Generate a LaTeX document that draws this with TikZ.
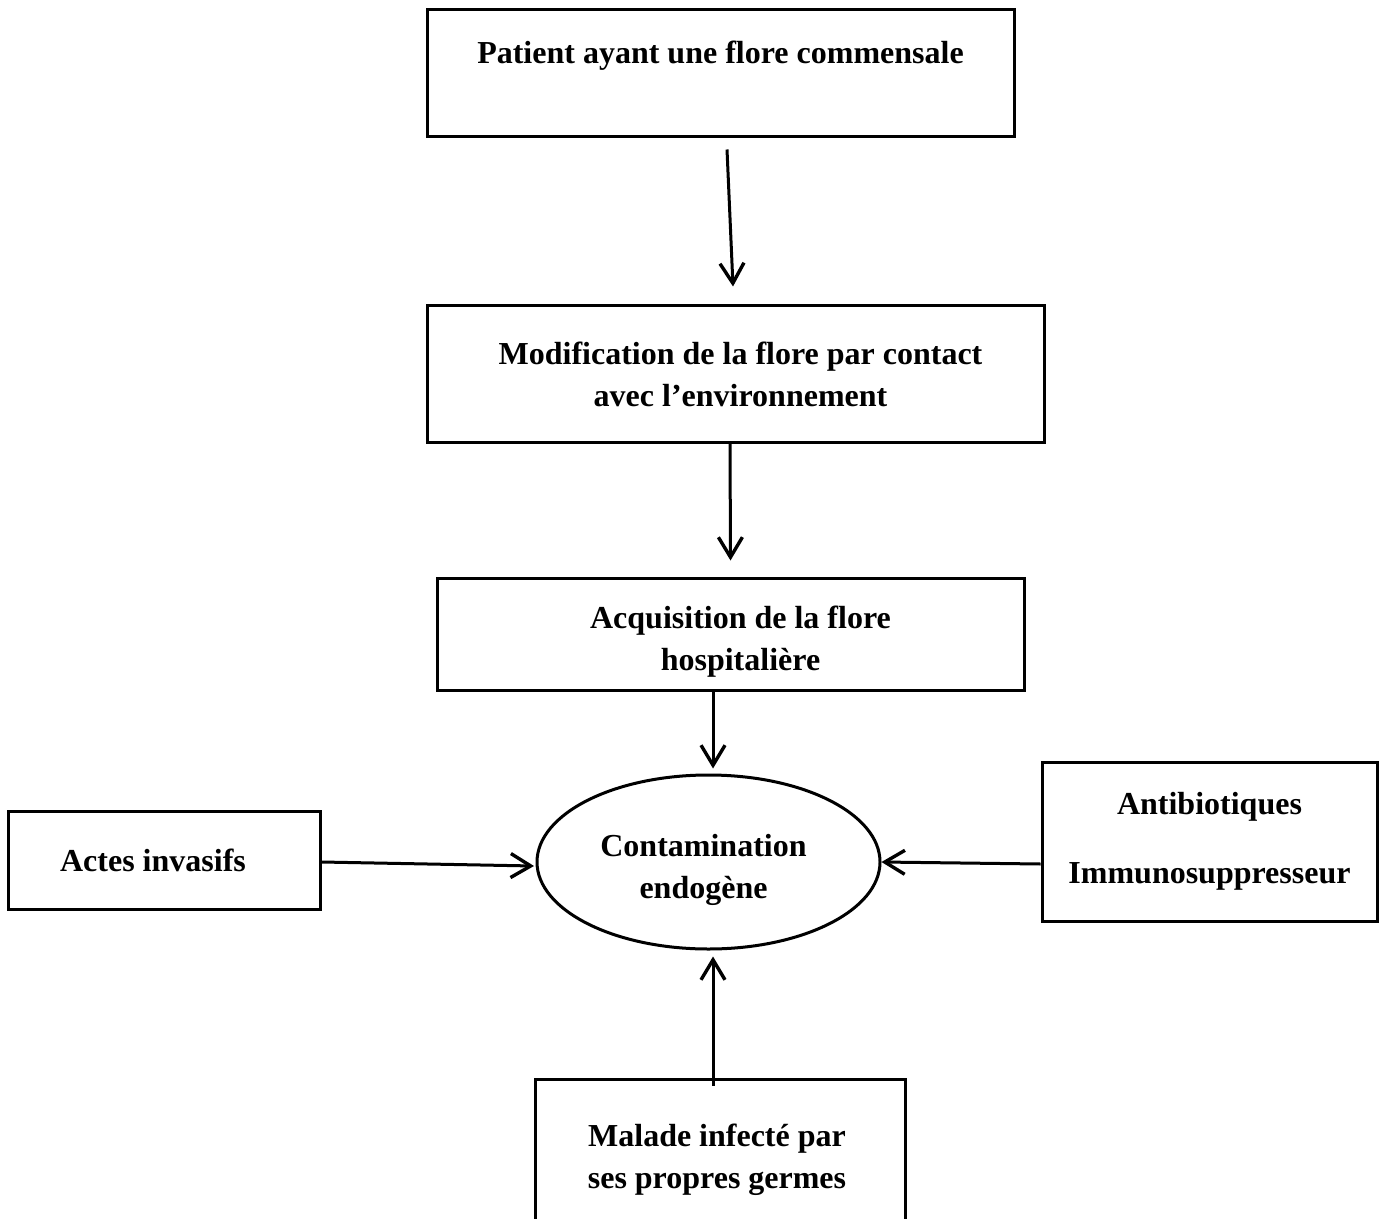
\documentclass[tikz,border=0pt]{standalone}
\usepackage{fontspec}
\setmainfont{Liberation Serif}
\usetikzlibrary{arrows.meta,shapes.geometric}
\begin{document}
\begin{tikzpicture}[x=0.5pt,y=-0.5pt,
	boite/.style={draw,line width=1.5pt,align=center,inner sep=0pt,
		font=\fontsize{16}{21}\selectfont\bfseries},
	fleche/.style={line width=1.5pt,-{Straight Barb[length=10pt,width=12pt,line width=1.7pt]}}]
	\clip (0,0) rectangle (1385,1219);
	% les boites
	\node[boite,minimum width=293.5pt,minimum height=63.5pt] (patient) at (720.5,73.5)
	{Patient ayant une flore commensale\\ \mbox{}};
	\node[boite,minimum width=308.5pt,minimum height=68pt] (modif) at (735.5,374)
	{\hspace*{5pt}Modification de la flore par contact\\\hspace*{5pt}avec l’environnement};
	\node[boite,minimum width=293.5pt,minimum height=56pt] (acquis) at (730.5,634)
	{\rule{0pt}{19pt}\hspace*{10pt}Acquisition de la flore\\\hspace*{10pt}hospitalière};
	\node[boite,minimum width=156pt,minimum height=49pt] (actes) at (164,860)
	{\hspace*{-11pt}Actes invasifs};
	\node[boite,minimum width=167.5pt,minimum height=79.5pt] (antibio) at (1209.5,841.5)
	{Antibiotiques\\[13.5pt]Immunosuppresseur};
	\node[boite,minimum width=185pt,minimum height=80.5pt] (malade) at (720,1159.5)
	{\hspace*{-3pt}Malade infecté par\\\hspace*{-3pt}ses propres germes};
	\node[boite,ellipse,minimum width=171.5pt,minimum height=87pt] (contam) at (708.5,862)
	{\rule{0pt}{19pt}\hspace*{-5pt}Contamination\\\hspace*{-5pt}endogène};
	% les fleches
	\draw[fleche] ([shift={(6.5,11)}]patient.south) -- ([shift={(-2.5,-18)}]modif.north);
	\draw[fleche] ([shift={(-5.5,0)}]modif.south) -- ([shift={(0,-16)}]acquis.north);
	\draw[fleche] ([shift={(-17.5,0)}]acquis.south) -- ([shift={(4.5,-5)}]contam.north);
	\draw[fleche] ([shift={(0,2)}]actes.east) -- ([shift={(-1.5,4)}]contam.west);
	\draw[fleche] ([shift={(0,22.5)}]antibio.west) -- (contam.east);
	\draw[fleche] ([shift={(-7,8)}]malade.north) -- ([shift={(4.5,6)}]contam.south);
\end{tikzpicture}
\end{document}
